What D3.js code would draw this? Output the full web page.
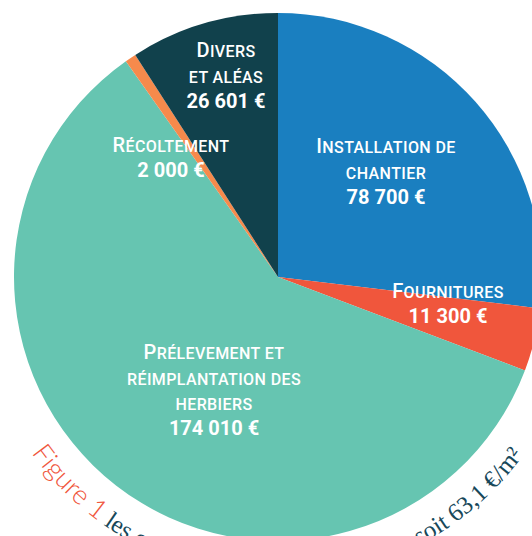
<!DOCTYPE html>
<html lang="fr">
<head>
<meta charset="utf-8">
<script src="https://cdn.jsdelivr.net/npm/d3@7"></script>
<style>
  html, body { margin: 0; padding: 0; background: #ffffff; }
  svg { display: block; }
</style>
</head>
<body>
<svg id="chart" width="532" height="536"></svg>
<script>
// Cost breakdown (€), clockwise from 12 o'clock
const categories = [
  "Installation de chantier",
  "Fournitures",
  "Prélevement et réimplantation des herbiers",
  "Récoltement",
  "Divers et aléas"
];
const amounts = [78700, 11300, 174010, 2000, 26601];
const valueLabels = ["78 700 €", "11 300 €", "174 010 €", "2 000 €", "26 601 €"];
// Label lines as written in each slice
const labelLines = [
  ["Installation de", "chantier"],
  ["Fournitures"],
  ["Prélevement et", "réimplantation des", "herbiers"],
  ["Récoltement"],
  ["Divers", "et aléas"]
];
const sliceColors = ["#1a7fc0", "#f0563c", "#66c5b1", "#f68a4c", "#11414c"];
const captionLead = "Figure 1";
const captionStart = "les coûts totaux :";
const captionEnd = "292 611 €, soit 63,1 €/m²";

// ---- layout ----
const width = 532, height = 536;
const cx = 278, cy = 277, radius = 264;
// first-baseline position of each label block, relative to the pie centre
const labelLayout = [
  { dx: 108, dy: -124 },
  { dx: 170, dy: 21 },
  { dx: -64, dy: 82 },
  { dx: -107, dy: -125 },
  { dx: -52, dy: -220 }
];
const lineStep = 25.5;

const svg = d3.select("#chart");

// Caption running around the pie underneath it (drawn first, the pie sits over it)
const captionR = 303;
const a0 = 200 * Math.PI / 180, a1 = -20 * Math.PI / 180;
const p = d3.path();
p.arc(cx, cy, captionR, a0, a1, true);
svg.append("defs").append("path").attr("id", "captionArc").attr("d", p.toString());

const offsetAt = deg => (200 - deg) * Math.PI / 180 * captionR;

const capLeft = svg.append("text");
const tpL = capLeft.append("textPath")
  .attr("href", "#captionArc")
  .attr("startOffset", offsetAt(144.5));
tpL.append("tspan")
  .attr("fill", "#f0563c")
  .style("font-family", "Lato, Roboto, sans-serif")
  .style("font-weight", 300)
  .style("font-size", "27px")
  .text(captionLead);
tpL.append("tspan")
  .attr("fill", "#17485a")
  .style("font-family", "'Liberation Serif', 'DejaVu Serif', serif")
  .style("font-size", "25px")
  .text(" " + captionStart);

svg.append("text")
  .attr("fill", "#17485a")
  .style("font-family", "'Liberation Serif', 'DejaVu Serif', serif")
  .style("font-size", "25px")
  .append("textPath")
  .attr("href", "#captionArc")
  .attr("startOffset", offsetAt(36))
  .attr("text-anchor", "end")
  .text(captionEnd);

const g = svg.append("g").attr("transform", `translate(${cx},${cy})`);

const data = categories.map((c, i) => ({ name: c, value: amounts[i], i }));

const pie = d3.pie().sort(null).value(d => d.value);
const arc = d3.arc().innerRadius(0).outerRadius(radius);
const color = d3.scaleOrdinal().domain(categories).range(sliceColors);

g.selectAll("path.slice")
  .data(pie(data))
  .join("path")
  .attr("class", "slice")
  .attr("d", arc)
  .attr("fill", d => color(d.data.name));

// Slice labels: first letter full size, remainder in small capitals
const labels = g.selectAll("text.lbl")
  .data(data)
  .join("text")
  .attr("class", "lbl")
  .attr("text-anchor", "middle")
  .attr("fill", "#ffffff")
  .style("font-family", "Roboto, 'Noto Sans', sans-serif");

labels.each(function (d) {
  const t = d3.select(this);
  const pos = labelLayout[d.i];
  const lines = labelLines[d.i];
  lines.forEach((line, k) => {
    const y = pos.dy + k * lineStep;
    if (k === 0) {
      t.append("tspan")
        .attr("x", pos.dx).attr("y", y)
        .style("font-size", "20px").style("font-weight", 500)
        .style("letter-spacing", "0.4px")
        .text(line.charAt(0).toUpperCase())
        .append("tspan")
        .style("font-size", "16px")
        .text(line.slice(1).toUpperCase());
    } else {
      t.append("tspan")
        .attr("x", pos.dx).attr("y", y)
        .style("font-size", "16px").style("font-weight", 500)
        .style("letter-spacing", "0.4px")
        .text(line.toUpperCase());
    }
  });
  t.append("tspan")
    .attr("x", pos.dx).attr("y", pos.dy + lines.length * lineStep - 0.5)
    .style("font-size", "20px").style("font-weight", 700)
    .text(valueLabels[d.i]);
});
</script>
</body>
</html>
